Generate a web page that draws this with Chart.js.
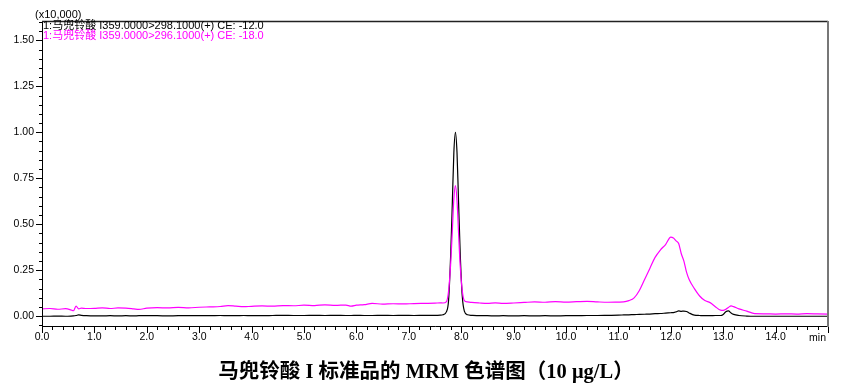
<!DOCTYPE html>
<html>
<head>
<meta charset="utf-8">
<script src="https://cdn.jsdelivr.net/npm/chart.js@4.4.1/dist/chart.umd.min.js"></script>
<style>
  body { margin: 0; background: #fff; }
  #wrap { position: relative; width: 861px; height: 385px; }
  #title {
    position: absolute; left: 0; width: 852px; top: 354px;
    text-align: center; font: bold 20.5px "Liberation Serif", "Noto Sans CJK SC", serif; color: #000;
  }
</style>
</head>
<body>
<div id="wrap">
  <canvas id="chrom" width="861" height="385"></canvas>
  <div id="title">马兜铃酸 I 标准品的 MRM 色谱图（10 μg/L）</div>
</div>
<script>
// retention time (min)
const times = [
  0.0, 0.15, 0.3, 0.45, 0.55, 0.6, 0.65, 0.7, 0.75, 0.85,
  1.0, 1.15, 1.3, 1.45, 1.6, 1.75, 1.85, 2.0, 2.2, 2.4,
  2.6, 2.8, 3.0, 3.2, 3.4, 3.55, 3.7, 3.85, 4.0, 4.2,
  4.4, 4.6, 4.8, 5.0, 5.2, 5.4, 5.6, 5.8, 5.9, 6.0,
  6.15, 6.3, 6.5, 6.7, 6.9, 7.1, 7.3, 7.5, 7.6, 7.65,
  7.72, 7.76, 7.80, 7.83, 7.86, 7.89, 7.92, 7.95, 7.98, 8.02,
  8.06, 8.12, 8.2, 8.35, 8.5, 8.65, 8.8, 9.0, 9.2, 9.4,
  9.6, 9.8, 10.0, 10.2, 10.4, 10.6, 10.8, 11.0, 11.1, 11.2,
  11.3, 11.4, 11.5, 11.6, 11.7, 11.8, 11.9, 12.0, 12.05, 12.1,
  12.15, 12.2, 12.25, 12.3, 12.35, 12.45, 12.55, 12.65, 12.75, 12.85,
  12.95, 13.0, 13.05, 13.1, 13.15, 13.2, 13.3, 13.45, 13.6, 13.8,
  14.0, 14.2, 14.4, 14.6, 14.8, 15.0
];

// 359.0000>298.1000, CE -12 (x10,000)
const trace298 = [
  0.000, 0.000, 0.001, 0.000, 0.001, 0.002, 0.004, 0.007, 0.005, 0.003,
  0.002, 0.002, 0.003, 0.002, 0.003, 0.002, 0.003, 0.003, 0.003, 0.002,
  0.003, 0.003, 0.003, 0.003, 0.004, 0.003, 0.003, 0.004, 0.003, 0.003,
  0.004, 0.005, 0.004, 0.004, 0.005, 0.004, 0.005, 0.004, 0.004, 0.005,
  0.004, 0.004, 0.005, 0.004, 0.005, 0.004, 0.005, 0.005, 0.006, 0.008,
  0.025, 0.090, 0.340, 0.610, 0.890, 1.000, 0.890, 0.620, 0.350, 0.110,
  0.028, 0.008, 0.005, 0.003, 0.003, 0.002, 0.003, 0.002, 0.003, 0.002,
  0.003, 0.002, 0.003, 0.003, 0.004, 0.004, 0.005, 0.006, 0.007, 0.008,
  0.009, 0.010, 0.011, 0.012, 0.014, 0.015, 0.017, 0.019, 0.020, 0.024,
  0.029, 0.027, 0.028, 0.026, 0.018, 0.006, 0.004, 0.003, 0.003, 0.004,
  0.004, 0.010, 0.025, 0.029, 0.018, 0.010, 0.004, 0.001, 0.000, 0.000,
  0.000, 0.000, 0.000, 0.000, 0.000, 0.000
];

// 359.0000>296.1000, CE -18 (x10,000)
const trace296 = [
  0.040, 0.042, 0.038, 0.041, 0.035, 0.030, 0.055, 0.040, 0.044, 0.042,
  0.043, 0.046, 0.042, 0.045, 0.044, 0.040, 0.037, 0.044, 0.047, 0.045,
  0.048, 0.046, 0.049, 0.051, 0.053, 0.058, 0.055, 0.052, 0.054, 0.056,
  0.055, 0.058, 0.057, 0.060, 0.058, 0.062, 0.059, 0.061, 0.055, 0.060,
  0.063, 0.070, 0.066, 0.068, 0.067, 0.069, 0.070, 0.071, 0.073, 0.072,
  0.080, 0.140, 0.290, 0.460, 0.640, 0.710, 0.630, 0.450, 0.280, 0.140,
  0.085, 0.078, 0.075, 0.072, 0.070, 0.073, 0.070, 0.072, 0.075, 0.078,
  0.076, 0.080, 0.077, 0.079, 0.081, 0.078, 0.076, 0.077, 0.078, 0.085,
  0.100, 0.140, 0.200, 0.260, 0.320, 0.360, 0.390, 0.430, 0.425, 0.410,
  0.395, 0.340, 0.300, 0.240, 0.200, 0.150, 0.110, 0.085, 0.074, 0.052,
  0.033, 0.032, 0.038, 0.048, 0.056, 0.052, 0.040, 0.028, 0.014, 0.013,
  0.012, 0.013, 0.012, 0.014, 0.013, 0.012
];

const traceLabels = [
  '1:马兜铃酸 I359.0000>298.1000(+) CE: -12.0',
  '1:马兜铃酸 I359.0000>296.1000(+) CE: -18.0'
];
const traceColors = ['#000000', '#ff00ff'];

const xTicks = [0, 1, 2, 3, 4, 5, 6, 7, 8, 9, 10, 11, 12, 13, 14];
const yTicks = [0, 0.25, 0.5, 0.75, 1.0, 1.25, 1.5];
const yUnit = '(x10,000)';
const xUnit = 'min';

const toPoints = vals => times.map((t, i) => ({ x: t, y: vals[i] }));

const frame = {
  id: 'frame',
  afterDraw(chart) {
    const { ctx, chartArea: a, scales: { x, y } } = chart;
    ctx.save();
    // ticks
    ctx.strokeStyle = '#000';
    ctx.lineWidth = 1;
    ctx.beginPath();
    for (let i = 0; i <= 75; i++) {
      const v = i / 5;
      const px = Math.round(x.getPixelForValue(v)) + 0.5;
      const len = i % 5 === 0 ? 7 : 4;
      ctx.moveTo(px, a.bottom);
      ctx.lineTo(px, a.bottom + len);
    }
    for (let i = -1; i <= 32; i++) {
      const v = i * 0.05;
      const py = Math.round(y.getPixelForValue(v)) + 0.5;
      const len = i % 5 === 0 ? 6 : 3;
      ctx.moveTo(a.left, py);
      ctx.lineTo(a.left - len, py);
    }
    ctx.stroke();
    // axes + top
    ctx.beginPath();
    ctx.lineWidth = 1;
    ctx.moveTo(a.left + 0.5, a.top);
    ctx.lineTo(a.left + 0.5, a.bottom + 0.5);
    ctx.lineTo(a.right, a.bottom + 0.5);
    ctx.stroke();
    ctx.beginPath();
    ctx.lineWidth = 1.5;
    ctx.strokeStyle = '#222';
    ctx.moveTo(a.left, a.top + 0.5);
    ctx.lineTo(a.right, a.top + 0.5);
    ctx.stroke();
    ctx.beginPath();
    ctx.lineWidth = 2;
    ctx.strokeStyle = '#777';
    ctx.moveTo(a.right, a.top);
    ctx.lineTo(a.right, a.bottom + 1);
    ctx.stroke();
    // texts
    ctx.font = '11px "Liberation Sans", "Noto Sans CJK SC", sans-serif';
    ctx.textBaseline = 'middle';
    ctx.textAlign = 'left';
    ctx.fillStyle = '#000';
    ctx.fillText(yUnit, 35, 15);
    traceLabels.forEach((t, i) => {
      ctx.fillStyle = traceColors[i];
      ctx.fillText(t, a.left + 1, 26 + i * 10);
    });
    ctx.fillStyle = '#000';
    ctx.font = '10.5px "Liberation Sans", sans-serif';
    ctx.textAlign = 'center';
    ctx.fillText(xUnit, x.getPixelForValue(14.8), a.bottom + 12);
    ctx.restore();
  }
};

new Chart(document.getElementById('chrom'), {
  type: 'line',
  data: {
    datasets: [
      {
        label: traceLabels[0],
        data: toPoints(trace298),
        borderColor: traceColors[0],
        borderWidth: 1.2,
        order: 1
      },
      {
        label: traceLabels[1],
        data: toPoints(trace296),
        borderColor: traceColors[1],
        borderWidth: 1.2,
        order: 0
      }
    ]
  },
  options: {
    responsive: false,
    animation: false,
    parsing: false,
    elements: {
      point: { radius: 0 },
      line: { cubicInterpolationMode: 'monotone' }
    },
    layout: { padding: { top: 21, right: 33, bottom: 0, left: 0 } },
    plugins: {
      legend: { display: false },
      tooltip: { enabled: false }
    },
    scales: {
      x: {
        type: 'linear',
        min: 0,
        max: 15,
        afterBuildTicks: s => { s.ticks = xTicks.map(v => ({ value: v })); },
        afterFit: s => { s.height = 59; },
        grid: { display: false, drawTicks: false },
        border: { display: false },
        ticks: {
          padding: 5,
          color: '#000',
          font: { family: '"Liberation Sans", sans-serif', size: 10.5 },
          maxRotation: 0,
          callback: v => v.toFixed(1)
        }
      },
      y: {
        min: -0.053,
        max: 1.605,
        afterBuildTicks: s => { s.ticks = yTicks.map(v => ({ value: v })); },
        afterFit: s => { s.width = 42; },
        grid: { display: false, drawTicks: false },
        border: { display: false },
        ticks: {
          padding: 8,
          color: '#000',
          font: { family: '"Liberation Sans", sans-serif', size: 10.5 },
          callback: v => v.toFixed(2)
        }
      }
    }
  },
  plugins: [frame]
});
</script>
</body>
</html>
